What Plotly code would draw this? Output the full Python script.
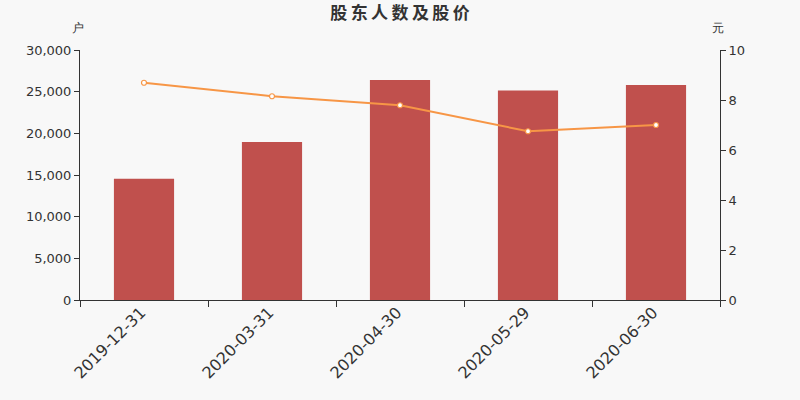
import plotly.graph_objects as go

# data
dates = ["2019-12-31", "2020-03-31", "2020-04-30", "2020-05-29", "2020-06-30"]
holders = [14550, 18950, 26400, 25150, 25800]
prices = [8.69, 8.15, 7.79, 6.75, 7.0]
title = "股东人数及股价"

FONT = "DejaVu Sans"
BAR_COLOR = "#c0504d"
LINE_COLOR = "#f79646"

fig = go.Figure()

fig.add_trace(
    go.Bar(
        x=dates,
        y=holders,
        marker=dict(color=BAR_COLOR, line=dict(width=0)),
        width=0.47,
        name="股东人数",
        yaxis="y",
    )
)

fig.add_trace(
    go.Scatter(
        x=dates,
        y=prices,
        mode="lines+markers",
        line=dict(color=LINE_COLOR, width=2),
        marker=dict(size=5, color="white", line=dict(color=LINE_COLOR, width=1.2)),
        name="股价",
        yaxis="y2",
    )
)

fig.update_layout(
    width=800,
    height=400,
    margin=dict(l=80, r=80, t=50, b=100),
    paper_bgcolor="#f8f8f8",
    plot_bgcolor="#f8f8f8",
    showlegend=False,
    bargap=0.5,
    font=dict(family=FONT, color="#333333", size=13),
    title=dict(
        # thin spaces give the loose letter spacing of the original title
        text="<b>" + "\u2009".join(title) + "</b>",
        x=0.5,
        xanchor="center",
        y=0.967,
        yanchor="middle",
        font=dict(size=17, color="#333333", family="Noto Sans CJK SC"),
    ),
    xaxis=dict(
        type="category",
        tickson="boundaries",
        ticks="outside",
        ticklen=6,
        tickcolor="#333333",
        showline=True,
        linecolor="#333333",
        showgrid=False,
        tickangle=-45,
        ticklabelstandoff=-4,
        ticklabelshift=-3,
        tickfont=dict(size=16, color="#333333"),
    ),
    yaxis=dict(
        range=[0, 30000],
        dtick=5000,
        tickformat=",",
        ticks="outside",
        ticklen=5,
        tickcolor="#333333",
        showline=True,
        linecolor="#333333",
        showgrid=False,
        zeroline=False,
        tickfont=dict(size=13, color="#333333"),
    ),
    yaxis2=dict(
        range=[0, 10],
        dtick=2,
        overlaying="y",
        side="right",
        ticks="outside",
        ticklen=5,
        tickcolor="#333333",
        showline=True,
        linecolor="#333333",
        showgrid=False,
        zeroline=False,
        tickfont=dict(size=13, color="#333333"),
    ),
    annotations=[
        dict(text="户", xref="paper", yref="paper", x=0, y=1.0, yshift=22, xshift=-2,
             showarrow=False, xanchor="center", yanchor="middle", font=dict(size=12)),
        dict(text="元", xref="paper", yref="paper", x=1, y=1.0, yshift=22, xshift=-2,
             showarrow=False, xanchor="center", yanchor="middle", font=dict(size=12)),
    ],
)

fig.write_html(
    "out.html",
    config={"displayModeBar": False},
    post_script="document.body.style.margin='0';",
)
